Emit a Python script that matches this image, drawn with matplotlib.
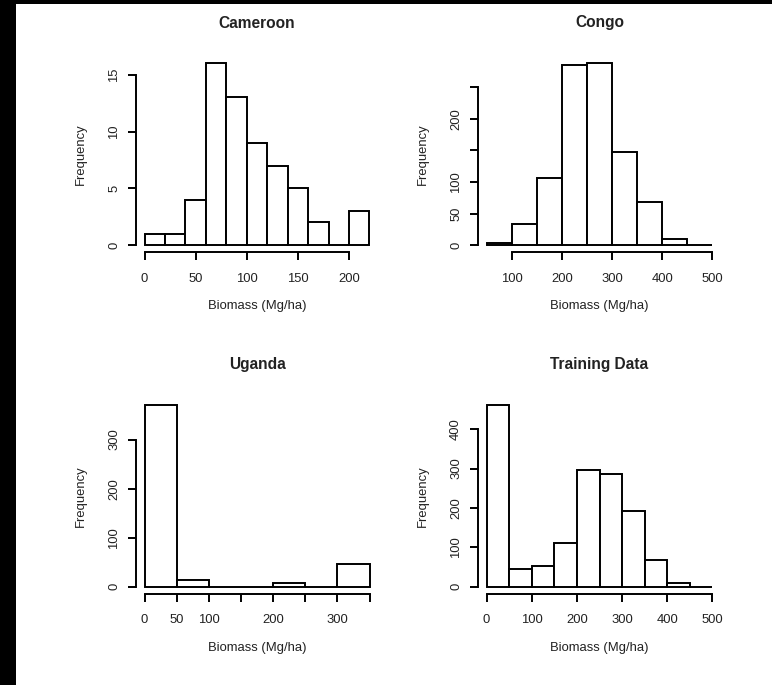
import matplotlib
matplotlib.use('Agg')
import matplotlib.pyplot as plt
from matplotlib.patches import Rectangle
import numpy as np

plt.rcParams['font.family'] = ['Liberation Sans', 'DejaVu Sans']

# ---- data (histogram bin edges and counts) ----
cameroon_breaks = [0, 20, 40, 60, 80, 100, 120, 140, 160, 180, 200, 220]
cameroon_counts = [1, 1, 4, 16, 13, 9, 7, 5, 2, 0, 3]

congo_breaks = [50, 100, 150, 200, 250, 300, 350, 400, 450, 500]
congo_counts = [3, 34, 107, 285, 288, 148, 68, 10, 0]

uganda_breaks = [0, 50, 100, 150, 200, 250, 300, 350]
uganda_counts = [371, 13, 0, 0, 8, 0, 46]

training_breaks = [0, 50, 100, 150, 200, 250, 300, 350, 400, 450, 500]
training_counts = [462, 46, 52, 110, 297, 286, 193, 68, 10, 0]

titles = ["Cameroon", "Congo", "Uganda", "Training Data"]

cameroon_xticks = [0, 50, 100, 150, 200]
cameroon_xlabels = ["0", "50", "100", "150", "200"]
cameroon_yticks = [0, 5, 10, 15]
cameroon_ylabels = ["0", "5", "10", "15"]

congo_xticks = [100, 200, 300, 400, 500]
congo_xlabels = ["100", "200", "300", "400", "500"]
congo_yticks = [0, 50, 100, 150, 200, 250]
congo_ylabels = ["0", "50", "100", "", "200", ""]

uganda_xticks = [0, 50, 100, 150, 200, 250, 300, 350]
uganda_xlabels = ["0", "50", "100", "", "200", "", "300", ""]
uganda_yticks = [0, 100, 200, 300]
uganda_ylabels = ["0", "100", "200", "300"]

training_xticks = [0, 100, 200, 300, 400, 500]
training_xlabels = ["0", "100", "200", "300", "400", "500"]
training_yticks = [0, 100, 200, 300, 400]
training_ylabels = ["0", "100", "200", "300", "400"]

xlabel_text = "Biomass (Mg/ha)"
ylabel_text = "Frequency"

W, H = 772, 685
fig = plt.figure(figsize=(W / 100, H / 100), dpi=100)
fig.patch.set_facecolor('white')

# black border strips (left and top) as in the reference
fig.patches.append(Rectangle((0, 0), 16 / W, 1, transform=fig.transFigure,
                             facecolor='black', edgecolor='none', zorder=-1))
fig.patches.append(Rectangle((0, 1 - 4 / H), 1, 4 / H, transform=fig.transFigure,
                             facecolor='black', edgecolor='none', zorder=-1))

LW = 1.4
FS = 9.4
TFS = 11.2
TXT = '#222222'


def make_axes(x0, x1, ytop, ybot):
    return fig.add_axes([x0 / W, 1 - ybot / H, (x1 - x0) / W, (ybot - ytop) / H])


def panel(ax, breaks, counts, title, xticks, xlabels, yticks, ylabels):
    b = np.array(breaks, dtype=float)
    c = np.array(counts, dtype=float)
    ax.bar(b[:-1], c, width=np.diff(b), align='edge', facecolor='white',
           edgecolor='black', linewidth=LW)
    xr = b[-1] - b[0]
    ax.set_xlim(b[0] - 0.04 * xr, b[-1] + 0.04 * xr)
    ym = c.max()
    ax.set_ylim(-0.04 * ym, 1.04 * ym)
    ax.patch.set_alpha(0)
    for s in ['top', 'right']:
        ax.spines[s].set_visible(False)
    for s in ['left', 'bottom']:
        ax.spines[s].set_linewidth(LW)
    ax.spines['left'].set_bounds(yticks[0], yticks[-1])
    ax.spines['bottom'].set_bounds(xticks[0], xticks[-1])
    ax.set_xticks(xticks)
    ax.set_xticklabels(xlabels)
    ax.set_yticks(yticks)
    ax.set_yticklabels(ylabels, rotation=90, va='center')
    ax.tick_params(axis='both', direction='out', length=5.6, width=LW,
                   labelsize=FS, colors='black', labelcolor=TXT)
    ax.tick_params(axis='x', pad=9.0)
    ax.tick_params(axis='y', pad=5.5)
    # title, labels positioned R-style
    ax.annotate(title, xy=(0.5, 1), xycoords='axes fraction',
                xytext=(0, 33 * 0.72), textcoords='offset points',
                ha='center', va='center', fontsize=TFS, fontweight='bold',
                color=TXT)
    ax.annotate(xlabel_text, xy=(0.5, 0), xycoords='axes fraction',
                xytext=(0, -53.5 * 0.72), textcoords='offset points',
                ha='center', va='center', fontsize=FS, color=TXT)
    ax.annotate(ylabel_text, xy=(0, 0.5), xycoords='axes fraction',
                xytext=(-54.5 * 0.72, 0), textcoords='offset points',
                ha='center', va='center', fontsize=FS, rotation=90, color=TXT)


L0, L1 = 135.5, 378.5
R0, R1 = 477.5, 721.5
T0, T1 = 56.0, 252.5
B0, B1 = 397.5, 594.0

ax1 = make_axes(L0, L1, T0, T1)
ax2 = make_axes(R0, R1, T0, T1)
ax3 = make_axes(L0, L1, B0, B1)
ax4 = make_axes(R0, R1, B0, B1)

panel(ax1, cameroon_breaks, cameroon_counts, titles[0],
      cameroon_xticks, cameroon_xlabels, cameroon_yticks, cameroon_ylabels)
panel(ax2, congo_breaks, congo_counts, titles[1],
      congo_xticks, congo_xlabels, congo_yticks, congo_ylabels)
panel(ax3, uganda_breaks, uganda_counts, titles[2],
      uganda_xticks, uganda_xlabels, uganda_yticks, uganda_ylabels)
panel(ax4, training_breaks, training_counts, titles[3],
      training_xticks, training_xlabels, training_yticks, training_ylabels)

fig.savefig('out.png', dpi=100)
